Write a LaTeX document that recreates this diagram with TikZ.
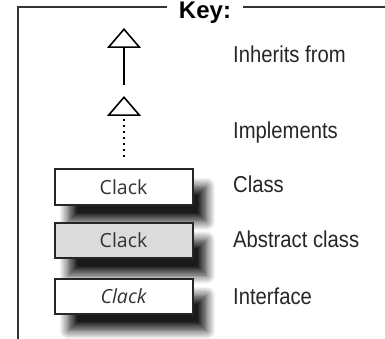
\documentclass[tikz,border=0pt]{standalone}
\usepackage{fontspec}
\setmainfont{Liberation Sans}
\newfontfamily\labelfont{Liberation Sans}[FakeStretch=0.88]
\newfontfamily\boxfont{Open Sans}
\usetikzlibrary{arrows.meta,shadows.blur}

\begin{document}
\begin{tikzpicture}[
  x=1pt,y=-1pt,
  % Frame of the key: only the left and top edges are drawn.
  frame/.style={line width=2pt,draw=black!80},
  % UML arrows: open triangle head, solid for inheritance, dotted for implementation.
  inherit/.style={line width=1.6pt,-{Triangle[open,length=20pt,width=34pt,line width=1.6pt]}},
  implement/.style={inherit,dash pattern=on 2pt off 4pt,line width=2pt},
  classbox/.style={draw=black!85,line width=2pt,fill=white,minimum width=138pt,
                   minimum height=35pt,inner sep=0pt,text=black!80,
                   font=\boxfont\fontsize{19.5}{22}\selectfont,
                   blur shadow={shadow xshift=14pt,shadow yshift=-17pt,
                                shadow blur radius=9pt,shadow blur steps=12,
                                shadow opacity=90}},
  lbl/.style={anchor=base west,inner sep=0pt,text=black!85,
              font=\labelfont\fontsize{23}{26}\selectfont},
]
\useasboundingbox (0,0) rectangle (385,339);

%--- frame with the title set into its top edge ------------------------------
\coordinate (corner) at (17.5,7.5);
\coordinate (frameBot) at (17.5,345);
\coordinate (frameEnd) at (390,7.5);
\node[anchor=base,inner xsep=12pt,inner ysep=0pt,
      font=\bfseries\fontsize{24}{28}\selectfont] (key) at (205,18.5) {Key:};
\draw[frame] (frameBot) -- (corner) -- (corner -| key.west);
\draw[frame] (corner -| key.east) -- (frameEnd);

%--- arrows ------------------------------------------------------------------
\coordinate (inhTop) at (124,28);
\coordinate (inhBot) at (124,85);
\draw[inherit] (inhBot) -- (inhTop);

\coordinate (impTop) at (124,96);
\coordinate (impBot) at (124,157);
\draw[implement] (impBot) -- (impTop);

%--- class boxes -------------------------------------------------------------
\node[classbox] (cls) at (123.5,187) {Clack};
\node[classbox,fill=black!14] (abs) at (123.5,240.5) {Clack};
\node[classbox] (ifc) at (123.5,296) {\itshape Clack};

%--- labels ------------------------------------------------------------------
\node[lbl] (lblInherit) at (233,63) {Inherits from};
\node[lbl] (lblImplement) at (233,139) {Implements};
\node[lbl] (lblClass) at (233,193) {Class};
\node[lbl] (lblAbstract) at (233,247) {Abstract class};
\node[lbl] (lblInterface) at (233,304) {Interface};

\end{tikzpicture}
\end{document}
